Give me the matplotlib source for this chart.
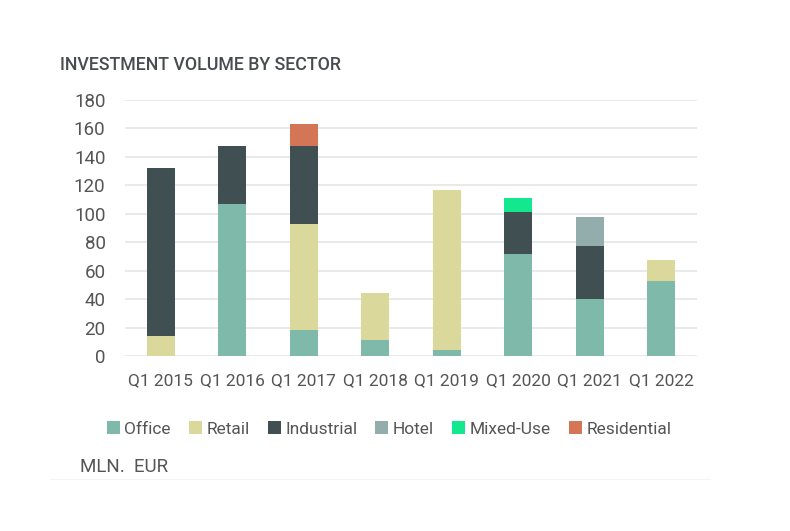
import matplotlib
matplotlib.use("Agg")
import matplotlib.pyplot as plt
import numpy as np

plt.rcParams['font.family'] = ['Roboto', 'DejaVu Sans']

categories = ["Q1 2015", "Q1 2016", "Q1 2017", "Q1 2018", "Q1 2019", "Q1 2020", "Q1 2021", "Q1 2022"]
office      = [0, 107, 18, 11.5, 4, 72, 40, 52.5]
retail      = [14, 0, 75, 32.5, 113, 0, 0, 15]
industrial  = [118, 41, 55, 0, 0, 29.5, 37, 0]
hotel       = [0, 0, 0, 0, 0, 0, 21, 0]
mixed_use   = [0, 0, 0, 0, 0, 9.5, 0, 0]
residential = [0, 0, 15, 0, 0, 0, 0, 0]

series = [("Office", office, "#7fb9a9"),
          ("Retail", retail, "#dad89a"),
          ("Industrial", industrial, "#3f4f52"),
          ("Hotel", hotel, "#93adad"),
          ("Mixed-Use", mixed_use, "#14e88f"),
          ("Residential", residential, "#d27655")]

fig = plt.figure(figsize=(7.9, 5.31), dpi=100)
ax = fig.add_axes([125/790, 175/531, 572/790, 256/531])

x = np.arange(len(categories))
bottom = np.zeros(len(categories))
handles = []
for name, vals, col in series:
    v = np.array(vals, dtype=float)
    b = ax.bar(x, v, width=0.39, bottom=bottom, color=col, label=name, zorder=3)
    handles.append(b)
    bottom += v

ax.set_xlim(-0.5, 7.5)
ax.set_ylim(0, 180)
ax.set_yticks(np.arange(0, 181, 20))
ax.yaxis.grid(True, color="#e4e6e6", linewidth=1.2, zorder=0)
ax.set_axisbelow(True)
for s in ax.spines.values():
    s.set_visible(False)
ax.set_xticks(x)
ax.set_xticklabels(categories)
ax.tick_params(axis='both', length=0, colors="#555555")
ax.tick_params(axis='x', labelsize=12.5, pad=12)
ax.tick_params(axis='y', labelsize=13.5, pad=14)

fig.text(60/790, 1 - 65/531, "INVESTMENT VOLUME BY SECTOR", fontsize=12.8, fontweight="medium",
         color="#474d4f", va="center", ha="left")
fig.text(80/790, 1 - 467/531, "MLN.  EUR", fontsize=13.5, color="#555555", va="center", ha="left")

fig.legend(handles=handles, loc="center", bbox_to_anchor=(389/790, 1 - 429/531), ncol=6, frameon=False,
           fontsize=12.5, labelcolor="#555555", handlelength=0.75, handleheight=0.75,
           handletextpad=0.25, columnspacing=1.05)

fig.add_artist(plt.Line2D([50/790, 710/790], [1 - 479/531, 1 - 479/531], color="#f4f4f4", linewidth=0.8))

fig.savefig("out.png", dpi=100)
